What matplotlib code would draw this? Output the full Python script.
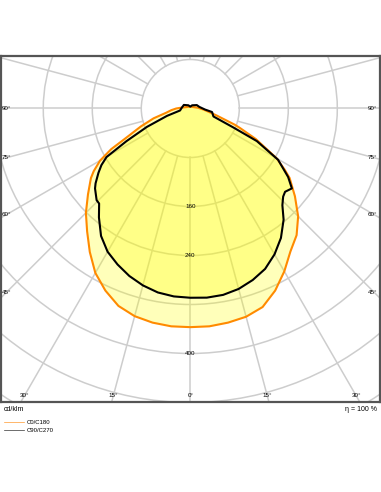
import matplotlib
matplotlib.use("Agg")
import matplotlib.pyplot as plt
from matplotlib.patches import Circle, Polygon
from matplotlib.lines import Line2D
import numpy as np

plt.rcParams['font.family'] = ['Liberation Sans', 'DejaVu Sans']

# C0/C180 plane: gamma (deg, from nadir) and intensity (cd/klm)
c0_gamma = [-180, -95, -90, -85, -80, -75, -70, -65, -62.8, -60, -57, -55, -50, -45,
            -40, -35, -30, -25, -20, -15, -10, -5, 0, 5, 10, 15, 20, 25, 30, 35,
            40, 45, 50, 55, 57, 60, 65, 68.6, 70, 75, 80, 85, 90, 95]
c0_cd = [3, 15, 23, 31, 40, 62, 86, 119, 145, 170, 188, 198, 218, 241,
         262, 286, 310, 328, 343, 351, 355, 357, 357, 357, 355, 352, 345, 328, 307, 285,
         270, 249, 223, 198, 184, 163, 118, 87, 77, 45, 30, 22, 16, 13]

# C90/C270 plane
c90_gamma = [-180, -150, -119, -95, -79, -72.4, -67, -62.9, -59.9, -57.5, -55, -51.7,
             -50, -45.6, -43.8, -40, -35, -30, -25, -20, -15, -10, -5, 0, 5, 10,
             15, 20, 25, 30, 35, 40, 43.6, 46.5, 48.7, 51.8, 55, 59.7, 63.9, 66.2,
             71, 80.8, 86, 100, 117.6, 150]
c90_cd = [3, 6, 12, 14, 17, 40, 77, 117, 158, 172, 183, 197,
          203, 214, 215, 232, 254, 270, 281, 291, 299, 305, 308, 309, 310, 309,
          305, 298, 289, 275, 258, 237, 218, 209, 206, 211, 195, 166, 121, 77,
          40, 36, 24, 15, 12, 6]

ring_values = np.arange(80, 801, 80)
ring_labels = [160, 240, 400]
spoke_angles = np.arange(0, 360, 15)
side_labels = [90, 75, 60, 45]
bottom_labels = [-30, -15, 0, 15, 30]

legend_names = ["C0/C180", "C90/C270"]
eta_text = "\u03b7 = 100 %"
unit_text = "cd/klm"


def to_xy(gamma, cd):
    g = np.radians(np.asarray(gamma, dtype=float))
    r = np.asarray(cd, dtype=float)
    return np.column_stack([r * np.sin(g), -r * np.cos(g)])


fig = plt.figure(figsize=(3.81, 4.92), dpi=100)
ax = fig.add_axes([1 / 381, 90 / 492, 379 / 381, 346 / 492])
ax.set_xlim(-309, 309.7)
ax.set_ylim(-479.2, 85.7)
ax.set_xticks([])
ax.set_yticks([])
for s in ax.spines.values():
    s.set_color("#555555")
    s.set_linewidth(1.6)

grid_col = "#cdcdcd"
for rv in ring_values:
    ax.add_patch(Circle((0, 0), rv, fill=False, ec=grid_col, lw=1.1, zorder=1))
for a in spoke_angles:
    t = np.radians(a)
    ax.plot([80 * np.sin(t), 900 * np.sin(t)], [-80 * np.cos(t), -900 * np.cos(t)],
            color=grid_col, lw=1.1, zorder=1)

# fills
ax.add_patch(Polygon(to_xy(c0_gamma, c0_cd), closed=True, fc="#ffff00", alpha=0.27,
                     ec="none", zorder=2))
ax.add_patch(Polygon(to_xy(c90_gamma, c90_cd), closed=True, fc="#ffff00", alpha=0.27,
                     ec="none", zorder=2))
ax.add_patch(Polygon(to_xy(c0_gamma, c0_cd), closed=True, fill=False, ec="#ff8a00",
                     lw=1.5, zorder=3, joinstyle="round"))
ax.add_patch(Polygon(to_xy(c90_gamma, c90_cd), closed=True, fill=False, ec="black",
                     lw=1.5, zorder=4, joinstyle="round"))

fs = 4.5
for rv in ring_labels:
    ax.text(0, -rv, str(rv), fontsize=fs, ha="center", va="center", zorder=5)

for a in side_labels:
    xl = 300.6
    yl = 0 if a == 90 else -xl / np.tan(np.radians(a))
    ax.text(-xl, yl, "%d\u00b0" % a, fontsize=fs, ha="center", va="center", zorder=5)
    ax.text(297.8, yl, "%d\u00b0" % a, fontsize=fs, ha="center", va="center", zorder=5)

yb = -469
for a in bottom_labels:
    xb = -yb * np.tan(np.radians(a))
    ax.text(xb, yb, "%d\u00b0" % abs(a), fontsize=fs, ha="center", va="center", zorder=5)

# text below the frame
fig.text(4 / 381, 1 - 409.5 / 492, unit_text, fontsize=5, ha="left", va="center")
fig.text(377 / 381, 1 - 409.5 / 492, eta_text, fontsize=5, ha="right", va="center")

leg_y = [422.3, 430.0]
leg_col = ["#ff9a30", "#333333"]
for name, yy, col in zip(legend_names, leg_y, leg_col):
    fy = 1 - yy / 492
    fig.add_artist(Line2D([4 / 381, 24 / 381], [fy, fy], color=col, lw=0.5))
    fig.text(27 / 381, fy, name, fontsize=4.3, ha="left", va="center")

fig.savefig("out.png", dpi=100)
